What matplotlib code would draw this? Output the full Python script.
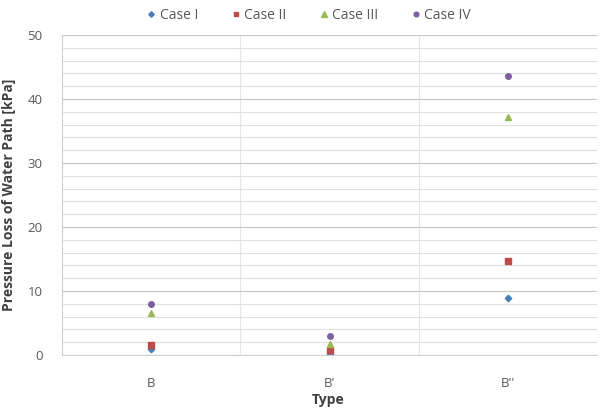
import matplotlib.pyplot as plt
import numpy as np

types = ["B", "B'", "B''"]
case_1 = [0.9, 0.2, 8.9]
case_2 = [1.6, 0.8, 14.7]
case_3 = [6.6, 1.7, 37.2]
case_4 = [8.0, 2.9, 43.6]

series = [
    ("Case I", case_1, "D", "#4A7EBB", 3.3),
    ("Case II", case_2, "s", "#BE4B48", 3.8),
    ("Case III", case_3, "^", "#98B954", 4.3),
    ("Case IV", case_4, "o", "#7D60A0", 4.0),
]

plt.rcParams['font.family'] = ['Open Sans', 'DejaVu Sans']

fig = plt.figure(figsize=(6.08, 4.08), dpi=100)
ax = fig.add_axes([0.102, 0.130, 0.880, 0.784])

x = np.arange(len(types))
for label, vals, mk, col, ms in series:
    ax.plot(x, vals, linestyle='none', marker=mk, color=col, markersize=ms, label=label)

ax.set_xlim(-0.5, 2.5)
ax.set_ylim(0, 50)
ax.set_yticks(range(0, 51, 10))
ax.set_yticks(range(0, 51, 2), minor=True)
ax.set_xticks(x)
ax.set_xticklabels(types)
ax.set_xticks([0.5, 1.5], minor=True)

ax.grid(True, which='major', axis='y', color='#c8c8c8', linewidth=0.9)
ax.grid(True, which='minor', axis='y', color='#e0e0e0', linewidth=0.8)
ax.grid(True, which='minor', axis='x', color='#e6e6e6', linewidth=0.8)
ax.set_axisbelow(True)

for s in ['top', 'right']:
    ax.spines[s].set_visible(False)
ax.spines['left'].set_color('#d0d0d0')
ax.spines['bottom'].set_color('#d0d0d0')
ax.tick_params(which='both', length=0, colors='#595959', labelsize=9.5)
ax.tick_params(axis='x', pad=16)
ax.tick_params(axis='y', pad=14)

ax.set_ylabel('Pressure Loss of Water Path [kPa]', fontsize=10, fontweight='bold', color='#404040', labelpad=8)
fig.text(0.54, 0.002, 'Type', ha='center', va='bottom', fontsize=10, fontweight='bold', color='#404040')

ax.legend(loc='upper center', bbox_to_anchor=(0.459, 1.125), ncol=4, frameon=False,
          fontsize=10, labelcolor='#595959', handletextpad=0.1, columnspacing=2.2,
          handlelength=1, markerscale=0.85)

fig.savefig('out.png', dpi=100)
